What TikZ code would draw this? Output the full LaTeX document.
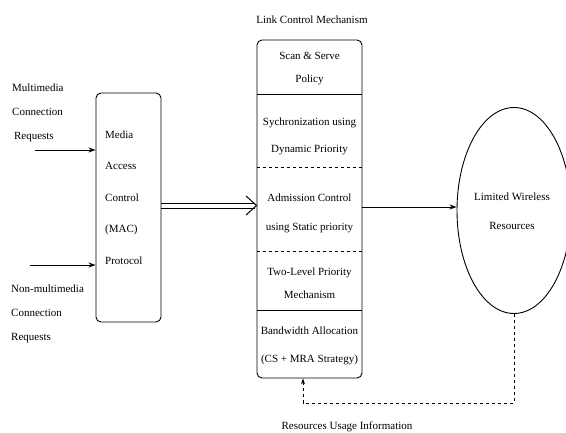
\documentclass[tikz,border=0pt]{standalone}
\usepackage{fontspec}
\setmainfont{Liberation Serif}
\usetikzlibrary{arrows.meta,shapes.geometric}
\begin{document}
\begin{tikzpicture}[x=1pt,y=-1pt,
  txt/.style={font=\fontsize{11}{24}\selectfont, inner sep=0pt},
  boxs/.style={draw, rounded corners=5pt, line width=0.9pt},
  arr/.style={-{Stealth[length=7pt,width=5pt]}, line width=0.9pt},
  divs/.style={line width=0.9pt},
  divd/.style={dashed, line width=0.9pt}]
\useasboundingbox (0,0) rectangle (566,433);
% boxes
\node[boxs, minimum width=65pt, minimum height=229pt] (mac) at (128.5,207.5) {};
\node[boxs, minimum width=105pt, minimum height=338pt] (lcm) at (309.5,209) {};
\node[draw, ellipse, line width=0.9pt, minimum width=114pt, minimum height=206pt] (res) at (514,210.5) {};
% titles and texts
\node[txt] (title) at (312,20) {Link Control Mechanism};
\node[txt, align=left, anchor=west] (mm) at (12,112.5) {Multimedia\\Connection\\\,Requests};
\node[txt, align=left, anchor=west] (nm) at (11,314) {Non-multimedia\\Connection\\Requests};
\node[txt, align=left, anchor=west, font=\fontsize{11}{31.5}\selectfont] (mact) at (105,197.5) {Media\\Access\\Control\\(MAC)\\Protocol};
\node[txt, align=center, font=\fontsize{11}{23}\selectfont] (s1) at (309.5,68.5) {Scan \& Serve\\Policy};
\node[txt, align=center, font=\fontsize{11}{27}\selectfont] (s2) at (309.5,136.5) {Sychronization using\\Dynamic Priority};
\node[txt, align=center, font=\fontsize{11}{29}\selectfont] (s3) at (309.5,213.5) {Admission Control\\using Static priority};
\node[txt, align=center, font=\fontsize{11}{23}\selectfont] (s4) at (309.5,283.5) {Two-Level Priority\\Mechanism};
\node[txt, align=center, font=\fontsize{11}{28}\selectfont] (s5) at (309.5,346) {Bandwidth Allocation\\(CS + MRA Strategy)};
\node[txt, align=center, font=\fontsize{11}{29}\selectfont] (rt) at (512,211.5) {Limited Wireless\\Resources};
\node[txt] (fbl) at (347,427) {Resources Usage Information};
% dividers
\draw[divs] (lcm.west |- 0,94) -- (lcm.east |- 0,94);
\draw[divd] (lcm.west |- 0,167) -- (lcm.east |- 0,167);
\draw[divd] (lcm.west |- 0,251) -- (lcm.east |- 0,251);
\draw[divs] (lcm.west |- 0,310) -- (lcm.east |- 0,310);
% input arrows
\coordinate (in1) at (35,150);
\coordinate (in2) at (30,265);
\draw[arr] (in1) -- (in1 -| mac.west);
\draw[arr] (in2) -- (in2 -| mac.west);
% double arrow (drawn as two lines and an open head)
\coordinate (dt) at (161,203);
\coordinate (dm) at (161,205.5);
\coordinate (dbm) at (161,208);
\coordinate (hu) at (246,196);
\coordinate (hd) at (246,215);
\draw[line width=0.9pt] (dt -| mac.east) -- ([xshift=-2pt]dt -| lcm.west);
\draw[line width=0.9pt] (dbm -| mac.east) -- ([xshift=-2pt]dbm -| lcm.west);
\draw[line width=1pt, line join=miter] (hu) -- (dm -| lcm.west) -- (hd);
% to resources
\coordinate (r1) at (362,207);
\draw[arr] (r1 -| lcm.east) -- (r1 -| res.west);
% feedback
\coordinate (fb) at (303,403);
\draw[dashed, line width=0.9pt] (res.south) |- (fb);
\draw[dashed, line width=0.9pt, -{Stealth[length=6pt,width=4pt]}] (fb) -- (fb |- lcm.south);
\end{tikzpicture}
\end{document}
